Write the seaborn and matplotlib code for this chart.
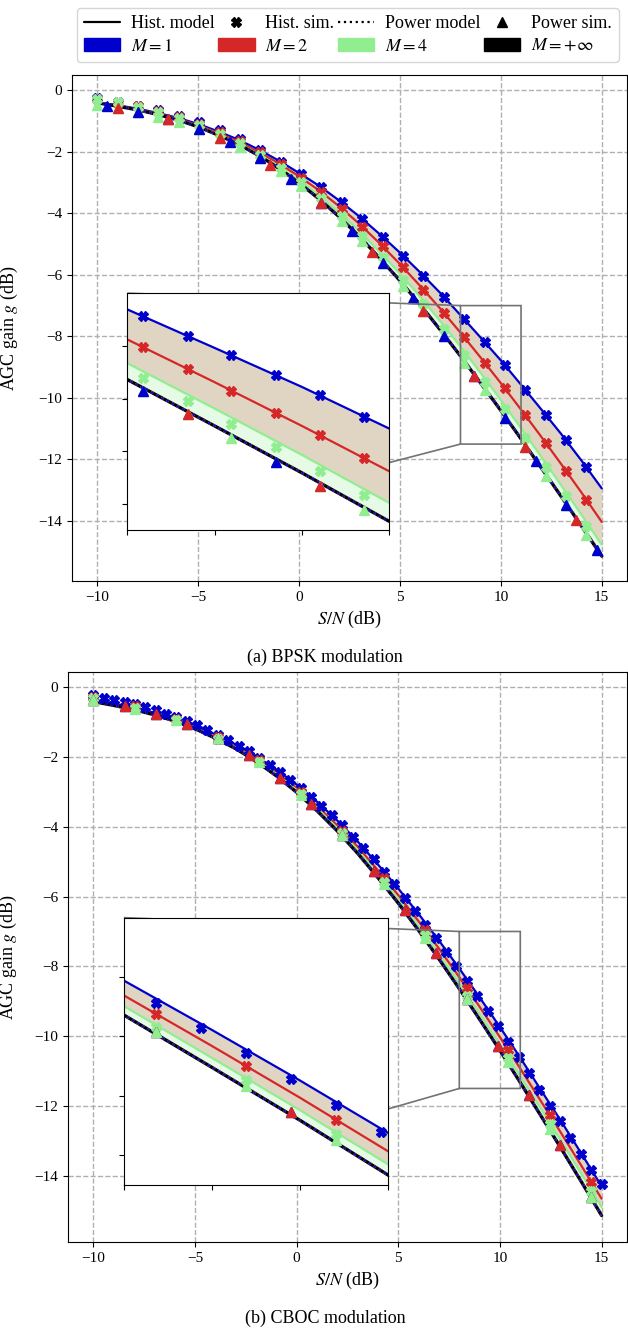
import matplotlib
matplotlib.use("Agg")
import matplotlib.pyplot as plt
from matplotlib.lines import Line2D
from matplotlib.patches import Patch
import seaborn as sns

sns.set_style("ticks", {"axes.edgecolor": "black", "xtick.color": "black",
                        "ytick.color": "black", "text.color": "black",
                        "axes.labelcolor": "black"})
plt.rcParams["font.family"] = ["Liberation Serif", "DejaVu Serif"]
plt.rcParams["mathtext.fontset"] = "stix"

# S/N grid of the model curves (dB)
snr_model = [-10, -9, -8, -7, -6, -5, -4, -3, -2, -1, 0, 1, 2, 3, 4, 5, 6, 7, 8,
             9, 10, 11, 12, 13, 14, 15]

# (a) BPSK : histogram models for M = 1, 2, 4 and the M = +inf / power model
bpsk_hist_m1 = [-0.39, -0.49, -0.60, -0.74, -0.90, -1.10, -1.34, -1.61, -1.93, -2.29,
                -2.69, -3.11, -3.59, -4.11, -4.68, -5.28, -5.92, -6.59, -7.31, -8.04,
                -8.78, -9.57, -10.37, -11.18, -12.04, -12.94]
bpsk_hist_m2 = [-0.40, -0.50, -0.62, -0.76, -0.93, -1.14, -1.39, -1.67, -2.01, -2.38,
                -2.80, -3.26, -3.78, -4.35, -4.98, -5.65, -6.36, -7.10, -7.88, -8.69,
                -9.52, -10.38, -11.26, -12.16, -13.08, -14.03]
bpsk_hist_m4 = [-0.41, -0.51, -0.63, -0.78, -0.96, -1.17, -1.43, -1.73, -2.08, -2.48,
                -2.93, -3.43, -3.98, -4.59, -5.26, -5.96, -6.71, -7.51, -8.33, -9.19,
                -10.07, -10.98, -11.91, -12.85, -13.80, -14.77]
bpsk_model_inf = [-0.41, -0.52, -0.64, -0.79, -0.97, -1.19, -1.46, -1.76, -2.12, -2.54,
                  -3.01, -3.54, -4.12, -4.76, -5.46, -6.19, -6.97, -7.79, -8.64, -9.52,
                  -10.41, -11.33, -12.27, -13.21, -14.17, -15.14]

# (a) BPSK : simulations
bpsk_snr_sim = [-10.0, -9.5, -8.99, -8.49, -7.98, -7.48, -6.97, -6.47, -5.96, -5.46,
                -4.95, -4.45, -3.94, -3.44, -2.93, -2.43, -1.92, -1.42, -0.91, -0.41,
                0.1, 0.61, 1.11, 1.62, 2.12, 2.63, 3.13, 3.64, 4.14, 4.65,
                5.15, 5.66, 6.16, 6.67, 7.17, 7.68, 8.18, 8.69, 9.19, 9.7,
                10.2, 10.71, 11.21, 11.72, 12.22, 12.73, 13.23, 13.74, 14.24, 14.75]
bpsk_sim_m1 = [-0.27, -0.33, -0.38, -0.45, -0.50, -0.58, -0.66, -0.75, -0.83, -0.94,
               -1.04, -1.17, -1.30, -1.44, -1.58, -1.75, -1.93, -2.12, -2.32, -2.52,
               -2.72, -2.94, -3.16, -3.41, -3.65, -3.92, -4.18, -4.47, -4.76, -5.07,
               -5.38, -5.70, -6.03, -6.37, -6.71, -7.08, -7.44, -7.81, -8.18, -8.55,
               -8.94, -9.34, -9.74, -10.14, -10.55, -10.96, -11.38, -11.81, -12.26, -12.71]
bpsk_sim_m2 = [-0.30, -0.36, -0.41, -0.47, -0.53, -0.61, -0.68, -0.78, -0.87, -0.98,
               -1.10, -1.23, -1.37, -1.51, -1.66, -1.84, -2.02, -2.21, -2.41, -2.63,
               -2.85, -3.08, -3.32, -3.58, -3.85, -4.14, -4.43, -4.75, -5.07, -5.41,
               -5.76, -6.12, -6.48, -6.85, -7.23, -7.63, -8.03, -8.43, -8.85, -9.27,
               -9.69, -10.13, -10.56, -11.01, -11.46, -11.91, -12.37, -12.84, -13.31, -13.79]
bpsk_sim_m4 = [-0.29, -0.35, -0.40, -0.47, -0.54, -0.62, -0.71, -0.81, -0.90, -1.01,
               -1.13, -1.26, -1.41, -1.57, -1.72, -1.91, -2.10, -2.30, -2.52, -2.76,
               -2.99, -3.25, -3.52, -3.81, -4.09, -4.41, -4.74, -5.09, -5.43, -5.79,
               -6.16, -6.54, -6.94, -7.35, -7.76, -8.18, -8.60, -9.04, -9.48, -9.92,
               -10.37, -10.83, -11.30, -11.77, -12.24, -12.71, -13.19, -13.67, -14.15, -14.64]
bpsk_power_sim = [-0.47, -0.53, -0.58, -0.64, -0.70, -0.78, -0.86, -0.95, -1.04, -1.15,
                  -1.26, -1.40, -1.54, -1.69, -1.85, -2.03, -2.21, -2.43, -2.64, -2.88,
                  -3.12, -3.39, -3.66, -3.96, -4.26, -4.58, -4.91, -5.27, -5.62, -5.99,
                  -6.37, -6.76, -7.16, -7.58, -7.99, -8.42, -8.86, -9.30, -9.75, -10.20,
                  -10.65, -11.12, -11.59, -12.06, -12.54, -13.01, -13.49, -13.98, -14.46, -14.95]

# (b) CBOC : models
cboc_hist_m1 = [-0.36, -0.47, -0.58, -0.73, -0.90, -1.11, -1.36, -1.64, -1.97, -2.36,
                -2.79, -3.28, -3.82, -4.42, -5.08, -5.77, -6.50, -7.26, -8.06, -8.89,
                -9.74, -10.62, -11.53, -12.43, -13.36, -14.30]
cboc_hist_m2 = [-0.39, -0.50, -0.61, -0.76, -0.93, -1.15, -1.41, -1.70, -2.04, -2.44,
                -2.89, -3.40, -3.96, -4.57, -5.25, -5.96, -6.71, -7.49, -8.31, -9.16,
                -10.03, -10.93, -11.85, -12.77, -13.71, -14.66]
cboc_hist_m4 = [-0.40, -0.51, -0.63, -0.77, -0.95, -1.17, -1.43, -1.73, -2.08, -2.49,
                -2.95, -3.47, -4.04, -4.67, -5.36, -6.08, -6.85, -7.65, -8.49, -9.36,
                -10.24, -11.15, -12.07, -13.00, -13.94, -14.90]
cboc_model_inf = [-0.41, -0.52, -0.64, -0.79, -0.97, -1.19, -1.46, -1.76, -2.12, -2.54,
                  -3.01, -3.54, -4.12, -4.76, -5.46, -6.19, -6.97, -7.79, -8.64, -9.52,
                  -10.41, -11.33, -12.27, -13.21, -14.17, -15.14]

# (b) CBOC : simulations
cboc_snr_sim = [-10.0, -9.49, -8.98, -8.47, -7.96, -7.45, -6.94, -6.43, -5.92, -5.41,
                -4.9, -4.39, -3.88, -3.37, -2.86, -2.35, -1.84, -1.33, -0.82, -0.31,
                0.2, 0.71, 1.22, 1.73, 2.24, 2.76, 3.27, 3.78, 4.29, 4.8,
                5.31, 5.82, 6.33, 6.84, 7.35, 7.86, 8.37, 8.88, 9.39, 9.9,
                10.41, 10.92, 11.43, 11.94, 12.45, 12.96, 13.47, 13.98, 14.49, 15.0]
cboc_sim_m1 = [-0.23, -0.30, -0.35, -0.42, -0.49, -0.57, -0.66, -0.76, -0.86, -0.97,
               -1.09, -1.22, -1.36, -1.51, -1.67, -1.83, -2.02, -2.22, -2.44, -2.66,
               -2.89, -3.14, -3.40, -3.67, -3.96, -4.28, -4.60, -4.93, -5.29, -5.65,
               -6.04, -6.42, -6.80, -7.19, -7.59, -8.00, -8.43, -8.85, -9.28, -9.72,
               -10.16, -10.61, -11.07, -11.53, -11.99, -12.44, -12.92, -13.38, -13.85, -14.25]
cboc_sim_m2 = [-0.29, -0.35, -0.41, -0.47, -0.54, -0.62, -0.70, -0.80, -0.90, -1.02,
               -1.14, -1.28, -1.42, -1.57, -1.73, -1.91, -2.09, -2.30, -2.52, -2.75,
               -2.99, -3.25, -3.52, -3.81, -4.11, -4.42, -4.75, -5.10, -5.46, -5.82,
               -6.19, -6.58, -6.97, -7.37, -7.78, -8.20, -8.63, -9.06, -9.50, -9.94,
               -10.40, -10.86, -11.33, -11.80, -12.26, -12.73, -13.21, -13.69, -14.18, -14.66]
cboc_sim_m4 = [-0.32, -0.39, -0.44, -0.51, -0.59, -0.66, -0.74, -0.84, -0.95, -1.06,
               -1.19, -1.32, -1.47, -1.62, -1.78, -1.96, -2.15, -2.36, -2.57, -2.81,
               -3.05, -3.32, -3.60, -3.89, -4.19, -4.52, -4.86, -5.23, -5.57, -5.94,
               -6.32, -6.71, -7.11, -7.52, -7.94, -8.37, -8.84, -9.29, -9.73, -10.18,
               -10.64, -11.11, -11.58, -12.05, -12.52, -12.99, -13.47, -13.95, -14.44, -14.93]
cboc_power_sim = [-0.37, -0.43, -0.48, -0.54, -0.61, -0.68, -0.76, -0.85, -0.95, -1.06,
                  -1.18, -1.32, -1.46, -1.61, -1.77, -1.95, -2.15, -2.36, -2.59, -2.82,
                  -3.08, -3.35, -3.63, -3.92, -4.23, -4.57, -4.91, -5.27, -5.63, -6.00,
                  -6.39, -6.79, -7.20, -7.62, -8.05, -8.48, -8.93, -9.37, -9.83, -10.28,
                  -10.75, -11.22, -11.69, -12.17, -12.65, -13.13, -13.62, -14.11, -14.61, -15.10]

BLUE, RED, GREEN, BLACK = "mediumblue", "tab:red", "lightgreen", "black"
TAN = "#e0d5c3"


def draw_curves(ax, hist, model_inf, snr_sim, sims, power_sim, sim_every, power_marks):
    m1, m2, m4 = hist
    ax.fill_between(snr_model, m1, m4, color=TAN, lw=0, zorder=1)
    ax.fill_between(snr_model, m4, model_inf, color=GREEN, alpha=0.22, lw=0, zorder=1)
    for y, c in zip([m1, m2, m4], [BLUE, RED, GREEN]):
        sns.lineplot(x=snr_model, y=y, ax=ax, color=c, linewidth=1.6, zorder=2, legend=False)
    sns.lineplot(x=snr_model, y=model_inf, ax=ax, color=BLACK, linewidth=2.4, zorder=2, legend=False)
    # power models (all on top of the M=+inf curve)
    for c in [BLACK, GREEN, RED, BLUE]:
        sns.lineplot(x=snr_model, y=model_inf, ax=ax, color=c, linewidth=1.6,
                     linestyle=":", zorder=2.1, legend=False)
    for y, c, ev in zip(sims, [BLUE, RED, GREEN], sim_every):
        ax.plot(snr_sim, y, ls="none", marker="X", ms=7, color=c, markevery=ev, zorder=3)
    for c, ev in power_marks:
        ax.plot(snr_sim, power_sim, ls="none", marker="^", ms=7, color=c, markevery=ev, zorder=3)


def panel(ax, hist, model_inf, snr_sim, sims, power_sim, main_every, main_power,
          ins_every, ins_power, ylim, label_x):
    draw_curves(ax, hist, model_inf, snr_sim, sims, power_sim, main_every, main_power)
    ax.set_xlim(-11.25, 16.25)
    ax.set_ylim(*ylim)
    ax.set_xticks([-10, -5, 0, 5, 10, 15])
    ax.set_yticks([0, -2, -4, -6, -8, -10, -12, -14])
    ax.grid(True, ls="--", lw=1.0, color="#b0b0b0")
    ax.set_axisbelow(True)
    ax.tick_params(labelsize=11)
    ax.set_xlabel("$S/N$ (dB)", fontsize=13)
    ax.set_ylabel("AGC gain $g$ (dB)", fontsize=13)
    ax.yaxis.set_label_coords(label_x, 0.5)

    axins = ax.inset_axes([0.1, 0.1, 0.472, 0.469])
    draw_curves(axins, hist, model_inf, snr_sim, sims, power_sim, ins_every, ins_power)
    axins.set_xlim(8, 11)
    axins.set_ylim(-11.5, -7)
    axins.set_xticks([8, 9, 10, 11])
    axins.set_yticks([-11, -10, -9, -8])
    axins.tick_params(labelbottom=False, labelleft=False)
    axins.set_xlabel("")
    axins.set_ylabel("")
    ind = ax.indicate_inset_zoom(axins, edgecolor="0.45", alpha=1, linewidth=1.2)
    conns = ind.connectors if hasattr(ind, "connectors") else ind[1]
    for i, c in enumerate(conns):
        c.set_visible(i < 2)


fig = plt.figure(figsize=(6.28, 13.29), dpi=100)

ax_a = fig.add_axes([0.1146, 0.5628, 0.8838, 0.3807])
panel(ax_a, [bpsk_hist_m1, bpsk_hist_m2, bpsk_hist_m4], bpsk_model_inf, bpsk_snr_sim,
      [bpsk_sim_m1, bpsk_sim_m2, bpsk_sim_m4], bpsk_power_sim,
      main_every=[slice(0, None, 2)] * 3,
      main_power=[(GREEN, slice(0, None, 2)), (BLUE, slice(1, None, 3)), (RED, slice(2, None, 5))],
      ins_every=[slice(None)] * 3,
      ins_power=[(GREEN, slice(None)), (BLUE, slice(0, None, 3)), (RED, slice(1, None, 3))],
      ylim=(-15.95, 0.49), label_x=-0.093)

ax_b = fig.add_axes([0.1083, 0.0655, 0.8901, 0.4289])
panel(ax_b, [cboc_hist_m1, cboc_hist_m2, cboc_hist_m4], cboc_model_inf, cboc_snr_sim,
      [cboc_sim_m1, cboc_sim_m2, cboc_sim_m4], cboc_power_sim,
      main_every=[slice(None), slice(0, None, 4), slice(0, None, 4)],
      main_power=[(BLUE, slice(0, None, 3)), (RED, slice(0, None, 3)), (GREEN, slice(0, None, 4))],
      ins_every=[slice(None), slice(0, None, 2), slice(0, None, 2)],
      ins_power=[(BLUE, slice(0, None, 3)), (RED, slice(0, None, 3)), (GREEN, slice(0, None, 2))],
      ylim=(-15.9, 0.44), label_x=-0.088)

fig.text(0.5175, 0.5057, "(a) BPSK modulation", ha="center", va="center", fontsize=13)
fig.text(0.5175, 0.0083, "(b) CBOC modulation", ha="center", va="center", fontsize=13)

handles = [Line2D([], [], color=BLACK, lw=1.6), Patch(color=BLUE),
           Line2D([], [], ls="none", marker="X", color=BLACK, ms=7), Patch(color=RED),
           Line2D([], [], color=BLACK, lw=1.6, ls=":"), Patch(color=GREEN),
           Line2D([], [], ls="none", marker="^", color=BLACK, ms=7), Patch(color=BLACK)]
labels = ["Hist. model", "$M = 1$", "Hist. sim.", "$M = 2$",
          "Power model", "$M = 4$", "Power sim.", "$M = +\\infty$"]
fig.legend(handles, labels, ncol=4, loc="upper center", bbox_to_anchor=(0.554, 0.994),
           fontsize=13, columnspacing=0.2, handletextpad=0.6, labelspacing=0.3,
           borderaxespad=0.0)

fig.savefig("out.png", dpi=100)
